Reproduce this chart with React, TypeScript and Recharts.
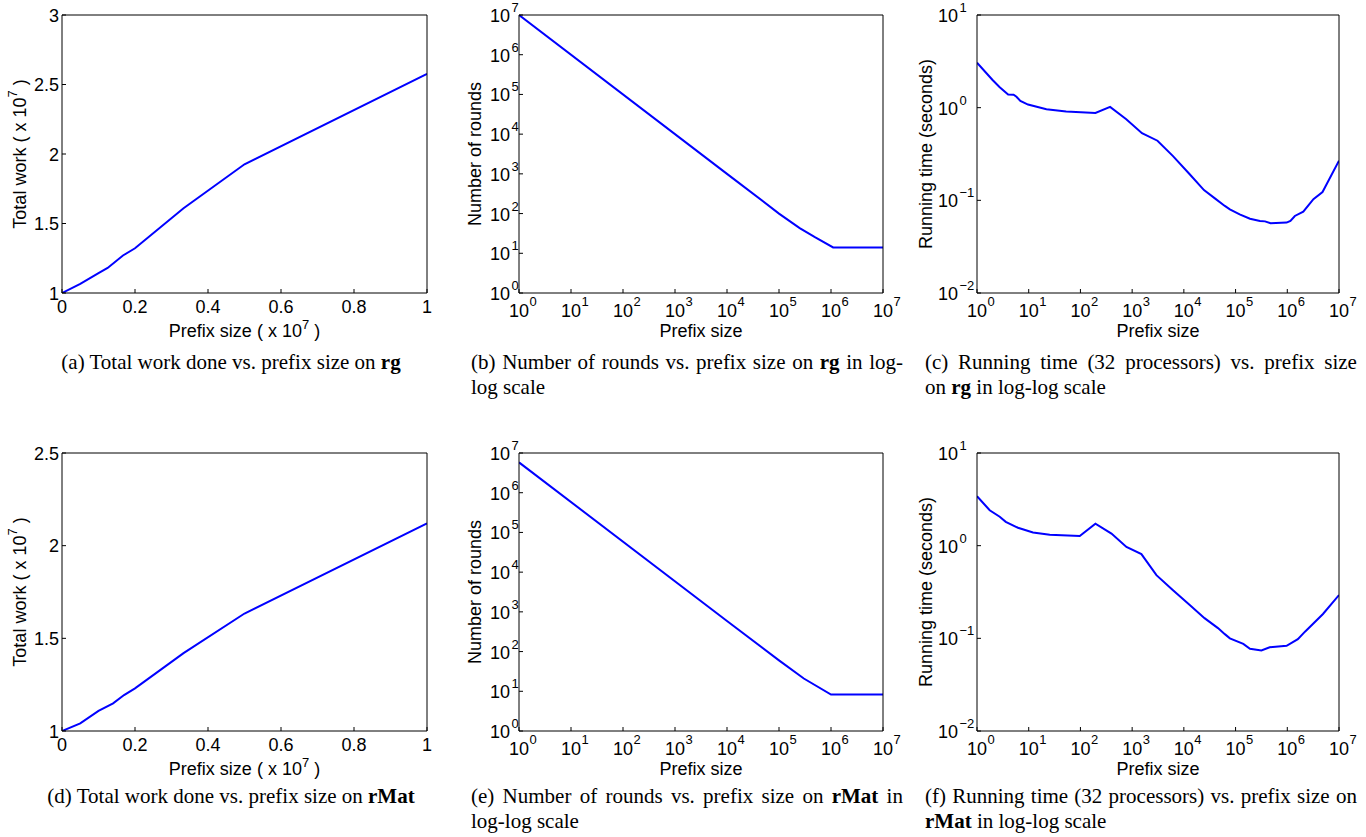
import React from 'react';
import { LineChart, Line, XAxis, YAxis } from 'recharts';

const SANS = '"Liberation Sans", Arial, Helvetica, sans-serif';
const SERIF = '"Liberation Serif", "Times New Roman", serif';

// ---------- data ----------
const workPrefixRg = [0, 0.05, 0.1, 0.125, 0.167, 0.2, 0.333, 0.5, 1];
const workRg = [1.0, 1.065, 1.143, 1.18, 1.27, 1.322, 1.61, 1.926, 2.577];

const workPrefixRMat = [0, 0.05, 0.1, 0.14, 0.17, 0.2, 0.333, 0.5, 1];
const workRMat = [1.0, 1.041, 1.108, 1.149, 1.194, 1.23, 1.42, 1.634, 2.12];

const roundsPrefixRg = [1, 1e4, 1e5, 2.5e5, 5e5, 1.1e6, 1e7];
const roundsRg = [1e7, 1000, 100, 43, 25, 14, 14];

const roundsPrefixRMat = [1, 1e4, 1e5, 3e5, 1e6, 1e7];
const roundsRMat = [5.8e6, 590, 60, 21, 8.3, 8.3];

const timePrefixRg = [1, 2, 2.75, 4, 5.1, 5.8, 6.9, 9.7, 22, 53, 195, 375, 770, 1550, 3090, 6170, 13100, 24500, 39800, 62000, 77600, 120000, 190000, 296000, 371000, 475000, 970000, 1150000, 1400000, 2040000, 3200000, 4800000, 10000000];
const timeRg = [3.06, 1.99, 1.66, 1.39, 1.38, 1.31, 1.18, 1.08, 0.96, 0.91, 0.875, 1.02, 0.75, 0.53, 0.44, 0.3, 0.19, 0.129, 0.105, 0.087, 0.08, 0.0706, 0.0634, 0.06, 0.0593, 0.0565, 0.0575, 0.06, 0.0678, 0.0755, 0.103, 0.123, 0.268];

const timePrefixRMat = [1, 1.76, 2.75, 3.6, 6.2, 12.1, 25.5, 97, 195, 398, 776, 1510, 2950, 6170, 13000, 25100, 45700, 62000, 77600, 141000, 190000, 316000, 457000, 970000, 1600000, 2200000, 4900000, 10000000];
const timeRMat = [3.42, 2.41, 2.05, 1.81, 1.56, 1.39, 1.31, 1.27, 1.73, 1.35, 0.97, 0.81, 0.48, 0.33, 0.229, 0.165, 0.129, 0.111, 0.1, 0.087, 0.077, 0.074, 0.08, 0.083, 0.098, 0.118, 0.183, 0.293];

const linXTicks = [0, 0.2, 0.4, 0.6, 0.8, 1];
const workYTicksRg = [1, 1.5, 2, 2.5, 3];
const workYTicksRMat = [1, 1.5, 2, 2.5];
const logXTicks = [1, 10, 100, 1e3, 1e4, 1e5, 1e6, 1e7];
const roundsYTicks = [1, 10, 100, 1e3, 1e4, 1e5, 1e6, 1e7];
const timeYTicks = [0.01, 0.1, 1, 10];

const captionA = '(a) Total work done vs. prefix size on **rg**';
const captionB = ['(b) Number of rounds vs. prefix size on **rg** in log-', 'log scale'];
const captionC = ['(c) Running time (32 processors) vs.  prefix size', 'on **rg** in log-log scale'];
const captionD = '(d) Total work done vs. prefix size on **rMat**';
const captionE = ['(e) Number of rounds vs.  prefix size on **rMat** in', 'log-log scale'];
const captionF = ['(f) Running time (32 processors) vs. prefix size on', '**rMat** in log-log scale'];

const zip = (xs: number[], ys: number[]) => xs.map((x, i) => ({ x, y: ys[i] }));

// ---------- ticks ----------
const expStr = (v: number) => {
  const e = Math.round(Math.log10(v));
  return e < 0 ? '\u2212' + (-e) : String(e);
};

const linXTick = (p: any) => (
  <text x={p.x} y={p.y + 20} textAnchor="middle" fontFamily={SANS} fontSize={18} fill="#000">
    {String(p.payload.value)}
  </text>
);
const linYTick = (p: any) => (
  <text x={p.x - 3} y={p.y + 6.5} textAnchor="end" fontFamily={SANS} fontSize={18} fill="#000">
    {String(p.payload.value)}
  </text>
);
const logXTick = (p: any) => (
  <g>
    <text x={p.x} y={p.y + 24} textAnchor="middle" fontFamily={SANS} fontSize={18} fill="#000">10</text>
    <text x={p.x + 10.5} y={p.y + 13} textAnchor="start" fontFamily={SANS} fontSize={13} fill="#000">
      {expStr(p.payload.value)}
    </text>
  </g>
);
const makeLogYTick = (gap: number) => (p: any) => (
  <g>
    <text x={p.x - gap} y={p.y + 7} textAnchor="end" fontFamily={SANS} fontSize={18} fill="#000">10</text>
    <text x={p.x - gap + 1.5} y={p.y - 3} textAnchor="start" fontFamily={SANS} fontSize={13} fill="#000">
      {expStr(p.payload.value)}
    </text>
  </g>
);

// ---------- panel ----------
type Geo = { x: number; y: number; w: number; h: number };

function Panel(props: {
  g: Geo;
  data: { x: number; y: number }[];
  log: boolean;
  xDomain: number[];
  yDomain: number[];
  xTicks: number[];
  yTicks: number[];
  xTick: any;
  yTick: any;
}) {
  const { g, data, log, xDomain, yDomain, xTicks, yTicks, xTick, yTick } = props;
  const mL = 80, mT = 14, mR = 26, xH = 55;
  const W = mL + g.w + 1 + mR;
  const H = mT + 1 + g.h + xH;
  const sc: any = log ? 'log' : 'linear';
  const common = { stroke: '#000', tickSize: -4, tickMargin: 4, interval: 0 as any, allowDataOverflow: true };
  return (
    <div style={{ position: 'absolute', left: g.x - mL, top: g.y - mT - 1 }}>
      <LineChart width={W} height={H} data={data} margin={{ top: mT, right: mR, bottom: 0, left: 0 }}>
        <XAxis xAxisId="b" dataKey="x" type="number" scale={sc} domain={xDomain} ticks={xTicks}
          orientation="bottom" height={xH} tick={xTick} {...common} />
        <XAxis xAxisId="t" dataKey="x" type="number" scale={sc} domain={xDomain} ticks={xTicks}
          orientation="top" height={1} tick={false} {...common} />
        <YAxis yAxisId="l" type="number" scale={sc} domain={yDomain} ticks={yTicks}
          orientation="left" width={mL} tick={yTick} {...common} />
        <YAxis yAxisId="r" type="number" scale={sc} domain={yDomain} ticks={yTicks}
          orientation="right" width={1} tick={false} {...common} />
        <Line xAxisId="b" yAxisId="l" dataKey="y" type="linear" stroke="#0000ff" strokeWidth={2}
          dot={false} activeDot={false} isAnimationActive={false} />
      </LineChart>
    </div>
  );
}

// ---------- captions ----------
const tokens = (s: string) =>
  s.split(/\s+/).filter(Boolean).map((t) => {
    const bold = t.startsWith('**') && t.endsWith('**');
    return { t: bold ? t.slice(2, -2) : t, bold };
  });

const capStyle: React.CSSProperties = {
  position: 'absolute', fontFamily: SERIF, fontSize: 21, lineHeight: '25px', height: 25,
  whiteSpace: 'nowrap', color: '#000',
};

function JustLine({ left, top, text }: { left: number; top: number; text: string }) {
  return (
    <div style={{ ...capStyle, left, top, width: 432, display: 'flex', justifyContent: 'space-between' }}>
      {tokens(text).map((w, i) => (
        <span key={i} style={{ fontWeight: w.bold ? 'bold' : 'normal' }}>{w.t}</span>
      ))}
    </div>
  );
}
function PlainLine({ left, top, text, center }: { left: number; top: number; text: string; center?: boolean }) {
  const tk = tokens(text);
  return (
    <div style={{ ...capStyle, left, top, width: 432, textAlign: center ? 'center' : 'left' }}>
      {tk.map((w, i) => (
        <React.Fragment key={i}>
          <span style={{ fontWeight: w.bold ? 'bold' : 'normal' }}>{w.t}</span>
          {i < tk.length - 1 ? ' ' : ''}
        </React.Fragment>
      ))}
    </div>
  );
}

// ---------- layout ----------
const GA: Geo = { x: 62, y: 15, w: 365, h: 278 };
const GB: Geo = { x: 519, y: 15, w: 364, h: 278 };
const GC: Geo = { x: 977, y: 15, w: 362, h: 278 };
const GD: Geo = { x: 62, y: 453, w: 365, h: 278 };
const GE: Geo = { x: 519, y: 453, w: 364, h: 278 };
const GF: Geo = { x: 977, y: 453, w: 362, h: 278 };

function YTitle({ g, off, children }: { g: Geo; off: number; children: any }) {
  const cx = g.x - off;
  const cy = g.y + g.h / 2;
  return (
    <text x={cx} y={cy} transform={`rotate(-90, ${cx}, ${cy})`} textAnchor="middle" dominantBaseline="central"
      fontFamily={SANS} fontSize={18} fill="#000">
      {children}
    </text>
  );
}
function XTitle({ g, children }: { g: Geo; children: any }) {
  return (
    <text x={g.x + g.w / 2} y={g.y + g.h + 44} textAnchor="middle" fontFamily={SANS} fontSize={18} fill="#000">
      {children}
    </text>
  );
}
const WorkLabel = (
  <>
    Total work ( x 10<tspan dy={-8} fontSize={13}>7</tspan><tspan dy={8}> )</tspan>
  </>
);
const PrefixLabel7 = (
  <>
    Prefix size ( x 10<tspan dy={-8} fontSize={13}>7</tspan><tspan dy={8}> )</tspan>
  </>
);

export default function App() {
  const cols = [15, 471, 925];
  const r1 = [350, 375];
  const r2 = [784, 809];
  return (
    <div style={{ position: 'absolute', left: 0, top: 0, width: 1366, height: 837, background: '#fff', overflow: 'hidden' }}>
      <Panel g={GA} data={zip(workPrefixRg, workRg)} log={false} xDomain={[0, 1]} yDomain={[1, 3]}
        xTicks={linXTicks} yTicks={workYTicksRg} xTick={linXTick} yTick={linYTick} />
      <Panel g={GB} data={zip(roundsPrefixRg, roundsRg)} log={true} xDomain={[1, 1e7]} yDomain={[1, 1e7]}
        xTicks={logXTicks} yTicks={roundsYTicks} xTick={logXTick} yTick={makeLogYTick(9)} />
      <Panel g={GC} data={zip(timePrefixRg, timeRg)} log={true} xDomain={[1, 1e7]} yDomain={[0.01, 10]}
        xTicks={logXTicks} yTicks={timeYTicks} xTick={logXTick} yTick={makeLogYTick(19)} />
      <Panel g={GD} data={zip(workPrefixRMat, workRMat)} log={false} xDomain={[0, 1]} yDomain={[1, 2.5]}
        xTicks={linXTicks} yTicks={workYTicksRMat} xTick={linXTick} yTick={linYTick} />
      <Panel g={GE} data={zip(roundsPrefixRMat, roundsRMat)} log={true} xDomain={[1, 1e7]} yDomain={[1, 1e7]}
        xTicks={logXTicks} yTicks={roundsYTicks} xTick={logXTick} yTick={makeLogYTick(9)} />
      <Panel g={GF} data={zip(timePrefixRMat, timeRMat)} log={true} xDomain={[1, 1e7]} yDomain={[0.01, 10]}
        xTicks={logXTicks} yTicks={timeYTicks} xTick={logXTick} yTick={makeLogYTick(19)} />

      <svg width={1366} height={837} style={{ position: 'absolute', left: 0, top: 0, pointerEvents: 'none' }}>
        <YTitle g={GA} off={42}>{WorkLabel}</YTitle>
        <YTitle g={GD} off={42}>{WorkLabel}</YTitle>
        <YTitle g={GB} off={44}>Number of rounds</YTitle>
        <YTitle g={GE} off={44}>Number of rounds</YTitle>
        <YTitle g={GC} off={51}>Running time (seconds)</YTitle>
        <YTitle g={GF} off={51}>Running time (seconds)</YTitle>
        <XTitle g={GA}>{PrefixLabel7}</XTitle>
        <XTitle g={GD}>{PrefixLabel7}</XTitle>
        <XTitle g={GB}>Prefix size</XTitle>
        <XTitle g={GE}>Prefix size</XTitle>
        <XTitle g={GC}>Prefix size</XTitle>
        <XTitle g={GF}>Prefix size</XTitle>
      </svg>

      <PlainLine left={cols[0]} top={r1[0]} text={captionA} center />
      <JustLine left={cols[1]} top={r1[0]} text={captionB[0]} />
      <PlainLine left={cols[1]} top={r1[1]} text={captionB[1]} />
      <JustLine left={cols[2]} top={r1[0]} text={captionC[0]} />
      <PlainLine left={cols[2]} top={r1[1]} text={captionC[1]} />

      <PlainLine left={cols[0]} top={r2[0]} text={captionD} center />
      <JustLine left={cols[1]} top={r2[0]} text={captionE[0]} />
      <PlainLine left={cols[1]} top={r2[1]} text={captionE[1]} />
      <JustLine left={cols[2]} top={r2[0]} text={captionF[0]} />
      <PlainLine left={cols[2]} top={r2[1]} text={captionF[1]} />
    </div>
  );
}
